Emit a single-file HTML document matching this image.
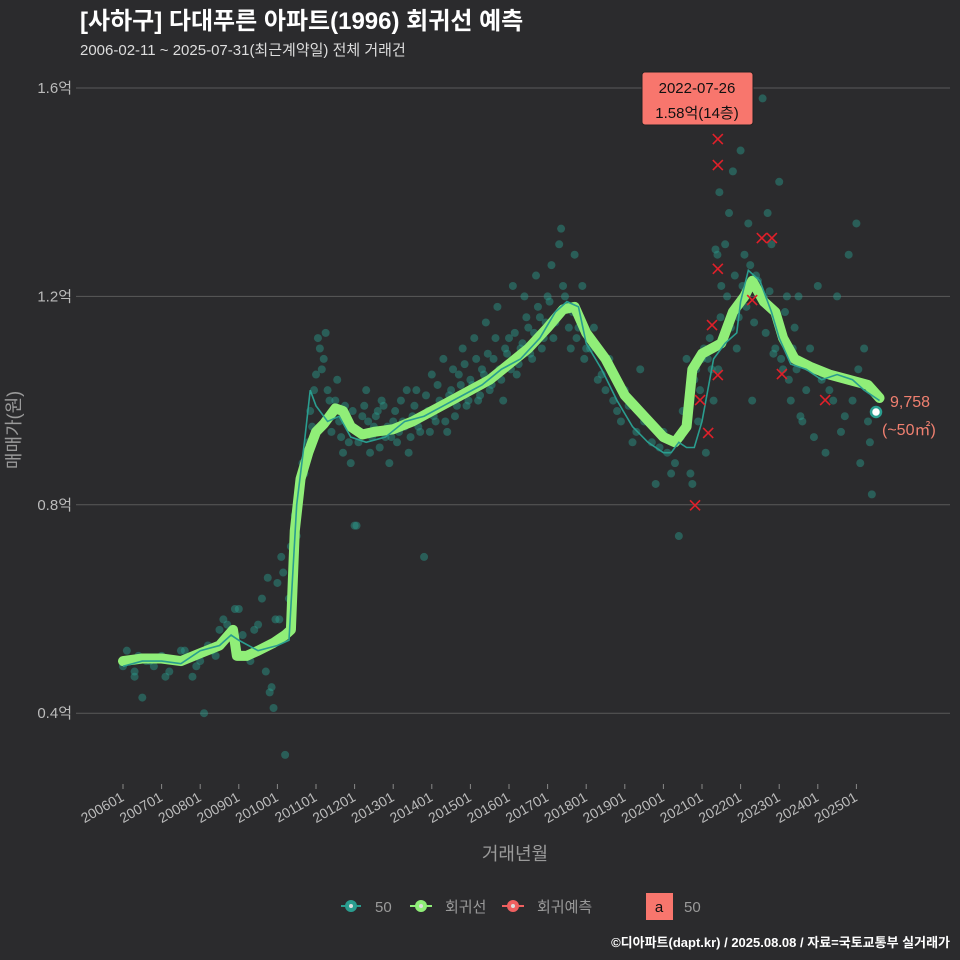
<!DOCTYPE html>
<html><head><meta charset="utf-8">
<style>
html,body{margin:0;padding:0;background:#2b2b2d;width:960px;height:960px;overflow:hidden;}
svg{display:block;}
svg text{font-family:"Liberation Sans","Noto Sans CJK KR",sans-serif;}
</style></head>
<body>
<svg id="chart" width="960" height="960" viewBox="0 0 960 960" xmlns="http://www.w3.org/2000/svg">
<rect width="960" height="960" fill="#2b2b2d"/>
<text x="80" y="29" fill="#ffffff" font-size="24" font-weight="bold">[사하구] 다대푸른 아파트(1996) 회귀선 예측</text>
<text x="80" y="55" fill="#dddddd" font-size="15">2006-02-11 ~ 2025-07-31(최근계약일) 전체 거래건</text>
<g id="grid"></g>
<g id="yaxis"></g>
<g id="xaxis"></g>
<g id="dots"></g>
<g id="lines"></g>
<g id="preds"></g>
<text x="20" y="430" fill="#9a9a9a" font-size="18" transform="rotate(-90 20 430)" text-anchor="middle">매매가(원)</text>
<text x="515" y="860" fill="#9a9a9a" font-size="18" text-anchor="middle">거래년월</text>
<g>
<rect x="642" y="72" width="111" height="53" rx="3" fill="#f8766d" stroke="#222" stroke-width="1"/>
<text x="697" y="93" font-size="15" text-anchor="middle" fill="#111">2022-07-26</text>
<text x="697" y="118" font-size="15" text-anchor="middle" fill="#111">1.58억(14층)</text>
</g>
<text x="890" y="407" fill="#f08070" font-size="16">9,758</text>
<text x="882" y="435" fill="#f08070" font-size="16">(~50㎡)</text>
<g>
<g><line x1="341" y1="906" x2="361" y2="906" stroke="#2a9d8f" stroke-width="2"/><circle cx="351" cy="906" r="6" fill="#2a9d8f"/><circle cx="351" cy="906" r="2" fill="#ddd"/><text x="375" y="912" fill="#9a9a9a" font-size="15">50</text></g>
<g><line x1="410" y1="906" x2="432" y2="906" stroke="#90ee78" stroke-width="2"/><circle cx="421" cy="906" r="6" fill="#90ee78"/><circle cx="421" cy="906" r="2" fill="#ddd"/><text x="445" y="912" fill="#9a9a9a" font-size="15">회귀선</text></g>
<g><line x1="502" y1="906" x2="524" y2="906" stroke="#f06060" stroke-width="2"/><circle cx="513" cy="906" r="6" fill="#f06060"/><circle cx="513" cy="906" r="2" fill="#ddd"/><text x="537" y="912" fill="#9a9a9a" font-size="15">회귀예측</text></g>
<g><rect x="646" y="893" width="27" height="27" fill="#f8766d"/><text x="659" y="912" fill="#111" font-size="15" text-anchor="middle">a</text><text x="684" y="912" fill="#9a9a9a" font-size="15">50</text></g>
</g>
<text x="950" y="947" fill="#ffffff" font-size="13" font-weight="bold" text-anchor="end">©디아파트(dapt.kr) / 2025.08.08 / 자료=국토교통부 실거래가</text>
</svg>
<script>
const yTicks=[0.4,0.8,1.2,1.6];
const xTickLabels=["200601","200701","200801","200901","201001","201101","201201","201301","201401","201501","201601","201701","201801","201901","202001","202101","202201","202301","202401","202501"];
const regT=[2006.0,2006.5,2007.0,2007.5,2008.0,2008.5,2008.85,2008.95,2009.2,2009.5,2009.9,2010.2,2010.35,2010.45,2010.6,2010.8,2011.0,2011.2,2011.5,2011.7,2011.9,2012.2,2012.5,2013.0,2013.5,2014.0,2014.5,2015.0,2015.5,2016.0,2016.5,2017.0,2017.4,2017.7,2018.0,2018.5,2019.0,2019.5,2020.0,2020.3,2020.6,2020.75,2021.0,2021.5,2021.8,2022.1,2022.3,2022.6,2022.9,2023.1,2023.4,2023.8,2024.3,2024.8,2025.3,2025.6];
const regV=[0.50,0.505,0.505,0.50,0.515,0.53,0.56,0.51,0.51,0.52,0.535,0.55,0.56,0.75,0.85,0.90,0.94,0.955,0.985,0.98,0.95,0.935,0.94,0.945,0.96,0.98,1.0,1.02,1.04,1.07,1.10,1.14,1.175,1.18,1.13,1.08,1.01,0.97,0.93,0.92,0.95,1.06,1.09,1.11,1.17,1.20,1.23,1.19,1.17,1.12,1.08,1.065,1.05,1.04,1.03,1.005];
const maT=[2006.0,2006.5,2007.0,2007.5,2008.0,2008.5,2008.8,2009.0,2009.5,2010.0,2010.3,2010.5,2010.7,2010.85,2011.0,2011.3,2011.6,2011.9,2012.3,2012.8,2013.3,2013.8,2014.3,2014.8,2015.3,2015.8,2016.3,2016.8,2017.2,2017.5,2017.8,2018.0,2018.4,2018.8,2019.2,2019.6,2020.0,2020.2,2020.4,2020.6,2020.8,2021.0,2021.3,2021.6,2021.9,2022.0,2022.2,2022.5,2022.8,2023.0,2023.3,2023.7,2024.1,2024.5,2024.9,2025.2,2025.6];
const maV=[0.49,0.50,0.50,0.495,0.52,0.53,0.55,0.54,0.52,0.53,0.54,0.80,0.92,1.02,0.99,0.96,0.97,0.93,0.92,0.93,0.96,0.97,0.99,1.01,1.03,1.06,1.08,1.12,1.17,1.19,1.18,1.11,1.06,1.00,0.95,0.92,0.90,0.90,0.92,0.91,0.91,0.96,1.08,1.11,1.13,1.19,1.25,1.23,1.17,1.12,1.07,1.06,1.04,1.05,1.04,1.02,1.00];
const dotT=[
2006.0,2006.1,2006.2,2006.3,2006.4,2006.5,2006.6,2006.8,2007.0,2007.2,
2007.4,2007.6,2007.8,2008.0,2008.1,2008.3,2008.5,2008.6,2008.8,2008.9,
2009.1,2009.3,2009.5,2009.6,2009.7,2009.8,2009.9,2009.95,2010.0,2010.1,
2010.2,2010.3,2010.4,2010.5,2010.55,2010.6,2010.7,2010.8,2010.9,2011.0,
2011.1,2011.2,2011.3,2011.4,2011.5,2011.6,2011.7,2011.8,2011.9,2012.0,
2012.1,2012.2,2012.3,2012.4,2012.5,2012.6,2012.7,2012.8,2012.9,2013.0,
2013.1,2013.2,2013.3,2013.4,2013.5,2013.6,2013.7,2013.8,2013.9,2014.0,
2014.1,2014.2,2014.3,2014.4,2014.5,2014.6,2014.7,2014.8,2014.9,2015.0,
2015.1,2015.2,2015.3,2015.4,2015.5,2015.6,2015.7,2015.8,2015.9,2016.0,
2016.1,2016.2,2016.3,2016.4,2016.5,2016.6,2016.7,2016.8,2016.9,2017.0,
2017.1,2017.2,2017.3,2017.4,2017.5,2017.6,2017.7,2017.8,2017.9,2018.0,
2018.2,2018.4,2018.6,2018.8,2019.0,2019.2,2019.4,2019.6,2019.8,2020.0,
2020.2,2020.4,2020.5,2020.6,2020.7,2020.8,2020.9,2021.0,2021.1,2021.2,
2021.3,2021.4,2021.45,2021.5,2021.6,2021.7,2021.8,2021.9,2022.0,2022.1,
2022.2,2022.3,2022.4,2022.57,2022.6,2022.7,2022.8,2022.9,2023.0,2023.1,
2023.2,2023.3,2023.4,2023.5,2023.6,2023.8,2024.0,2024.2,2024.3,2024.5,
2024.6,2024.8,2024.9,2025.0,2025.1,2025.2,2025.3,2025.4,2025.5,2025.45,
2006.3,2006.7,2007.1,2007.5,2007.9,2008.2,2008.4,2008.7,2009.0,2009.4,
2009.75,2009.85,2010.05,2010.15,2010.35,2010.45,2010.65,2010.75,2010.85,2010.95,
2011.05,2011.15,2011.25,2011.35,2011.45,2011.55,2011.65,2011.75,2011.85,2011.95,
2012.05,2012.15,2012.25,2012.35,2012.45,2012.55,2012.65,2012.75,2012.85,2012.95,
2013.05,2013.15,2013.25,2013.35,2013.45,2013.55,2013.65,2013.75,2013.85,2013.95,
2014.05,2014.15,2014.25,2014.35,2014.45,2014.55,2014.65,2014.75,2014.85,2014.95,
2015.05,2015.15,2015.25,2015.35,2015.45,2015.55,2015.65,2015.75,2015.85,2015.95,
2016.05,2016.15,2016.25,2016.35,2016.45,2016.55,2016.65,2016.75,2016.85,2016.95,
2017.05,2017.15,2017.25,2017.35,2017.45,2017.55,2017.65,2017.75,2017.85,2017.95,
2018.1,2018.3,2018.5,2018.7,2018.9,2019.1,2019.3,2019.5,2019.7,2019.9,
2020.1,2020.3,2020.45,2020.65,2020.75,2020.85,2020.95,2021.05,2021.15,2021.25,
2021.35,2021.42,2021.48,2021.55,2021.65,2021.75,2021.85,2021.95,2022.05,2022.15,
2022.25,2022.35,2022.45,2022.65,2022.75,2022.85,2022.95,2023.05,2023.15,2023.25,
2023.35,2023.45,2023.55,2023.7,2023.9,2024.1,2024.4,2024.7,2025.05,2025.35];
const dotV=[
0.49,0.52,0.50,0.47,0.51,0.43,0.50,0.49,0.51,0.48,
0.50,0.52,0.47,0.50,0.40,0.52,0.56,0.58,0.55,0.60,
0.55,0.50,0.57,0.62,0.48,0.44,0.41,0.58,0.65,0.70,
0.32,0.62,0.68,0.74,0.80,0.84,0.86,0.92,0.95,1.05,
1.10,1.08,1.02,0.94,1.00,0.96,0.90,0.96,0.88,0.76,
0.92,0.97,1.02,0.90,0.95,0.98,1.00,0.93,0.88,0.96,
0.92,1.00,0.95,0.90,0.97,1.02,0.94,0.70,0.98,1.05,
0.96,1.00,1.08,0.94,1.02,0.97,1.05,1.10,0.99,1.04,
1.12,1.00,1.06,1.15,1.02,1.08,1.18,1.04,1.10,1.12,
1.22,1.05,1.10,1.20,1.14,1.08,1.24,1.16,1.12,1.20,
1.26,1.15,1.30,1.22,1.18,1.10,1.28,1.14,1.22,1.10,
1.14,1.05,1.08,0.98,1.02,0.92,1.06,0.96,0.84,0.94,
0.86,0.74,0.98,1.08,0.86,1.04,0.96,1.08,0.90,1.12,
1.00,1.28,1.40,1.22,1.30,1.36,1.44,1.10,1.48,1.28,
1.34,1.00,1.24,1.58,1.20,1.36,1.30,1.10,1.42,1.06,
1.20,1.00,1.14,1.20,0.96,1.10,1.22,0.90,1.02,1.20,
0.94,1.28,1.00,1.34,0.88,1.10,0.96,0.82,0.98,1.02,
0.48,0.50,0.47,0.52,0.49,0.53,0.51,0.57,0.60,0.56,
0.66,0.45,0.58,0.67,0.72,0.78,0.88,0.90,0.98,1.02,
1.12,1.06,1.13,1.00,0.98,1.04,0.93,0.99,0.92,0.98,
0.76,0.94,0.99,0.96,0.93,0.97,0.91,0.99,0.95,0.93,
0.98,0.94,0.96,1.02,0.93,0.99,0.95,0.97,1.01,0.94,
0.97,1.03,0.99,0.96,1.01,1.06,0.99,1.03,1.07,1.00,
1.03,1.08,1.01,1.05,1.09,1.03,1.12,1.06,1.00,1.09,
1.06,1.13,1.07,1.11,1.16,1.09,1.13,1.18,1.10,1.15,
1.19,1.12,1.16,1.33,1.20,1.14,1.17,1.12,1.16,1.08,
1.10,1.04,1.02,1.00,0.96,0.99,0.94,0.96,0.92,0.91,
0.90,0.88,0.93,0.98,0.84,1.06,1.02,1.10,1.08,1.06,
1.29,1.06,1.16,1.12,1.20,1.14,1.24,1.16,1.22,1.18,
1.26,1.15,1.23,1.13,1.21,1.09,1.15,1.08,1.17,1.04,
1.10,1.06,0.97,1.02,0.93,1.04,1.00,0.97,1.06,0.92];
const predT=[2021.41,2021.41,2021.41,2021.26,2021.41,2020.95,2021.16,2020.82,2022.30,2022.55,2022.81,2023.07,2024.19];
const predV=[1.502,1.452,1.253,1.145,1.049,1.001,0.938,0.799,1.193,1.312,1.312,1.051,1.001];

const NS="http://www.w3.org/2000/svg";
function xs(t){return 123+(t-2006)*38.6;}
function ys(v){return 88+(1.6-v)*521;}
function mk(tag,attrs,parent){const e=document.createElementNS(NS,tag);for(const k in attrs)e.setAttribute(k,attrs[k]);parent.appendChild(e);return e;}
const grid=document.getElementById('grid'),yax=document.getElementById('yaxis'),xax=document.getElementById('xaxis');
yTicks.forEach(v=>{
  const l=mk('line',{x1:76,x2:950,y1:ys(v),y2:ys(v),stroke:'#5a5a5a','stroke-width':1},grid);
  
  
  const t=mk('text',{x:72,y:ys(v)+5,fill:'#bbbbbb','font-size':15,'text-anchor':'end'},yax);
  t.textContent=v.toFixed(1)+'억';
  
  
});
xTickLabels.forEach((s,i)=>{
  const x=xs(2006+i);
  mk('line',{x1:x,x2:x,y1:784,y2:789,stroke:'#888'},xax);
  const t=mk('text',{x:x+2,y:800,fill:'#bbbbbb','font-size':14,'text-anchor':'end',transform:`rotate(-30 ${x+2} 800)`},xax);
  t.textContent=s;
  
  
});
const dots=document.getElementById('dots');
const nD=Math.min(dotT.length,dotV.length);
for(let i=0;i<nD;i++){
  const c=mk('circle',{cx:xs(dotT[i]),cy:ys(dotV[i]),r:4,fill:'#2a9d8f','fill-opacity':0.45},dots);
  
  
}
const lines=document.getElementById('lines');
const rg=mk('polyline',{points:regT.map((t,i)=>xs(t)+','+ys(regV[i])).join(' '),fill:'none',stroke:'#90ee78','stroke-width':10,'stroke-linejoin':'round','stroke-linecap':'round'},lines);


const ma=mk('polyline',{points:maT.map((t,i)=>xs(t)+','+ys(maV[i])).join(' '),fill:'none',stroke:'#2a9d8f','stroke-width':1.6},lines);


const ep=mk('circle',{cx:876,cy:412,r:5,fill:'#ffffff',stroke:'#2a9d8f','stroke-width':2.5},lines);


const preds=document.getElementById('preds');
predT.forEach((t,i)=>{
  const x=xs(t),y=ys(predV[i]);
  const p=mk('path',{d:`M${x-5},${y-5}L${x+5},${y+5}M${x-5},${y+5}L${x+5},${y-5}`,stroke:'#e0202a','stroke-width':1.6,fill:'none'},preds);
  
  
});
</script>
</body></html>
